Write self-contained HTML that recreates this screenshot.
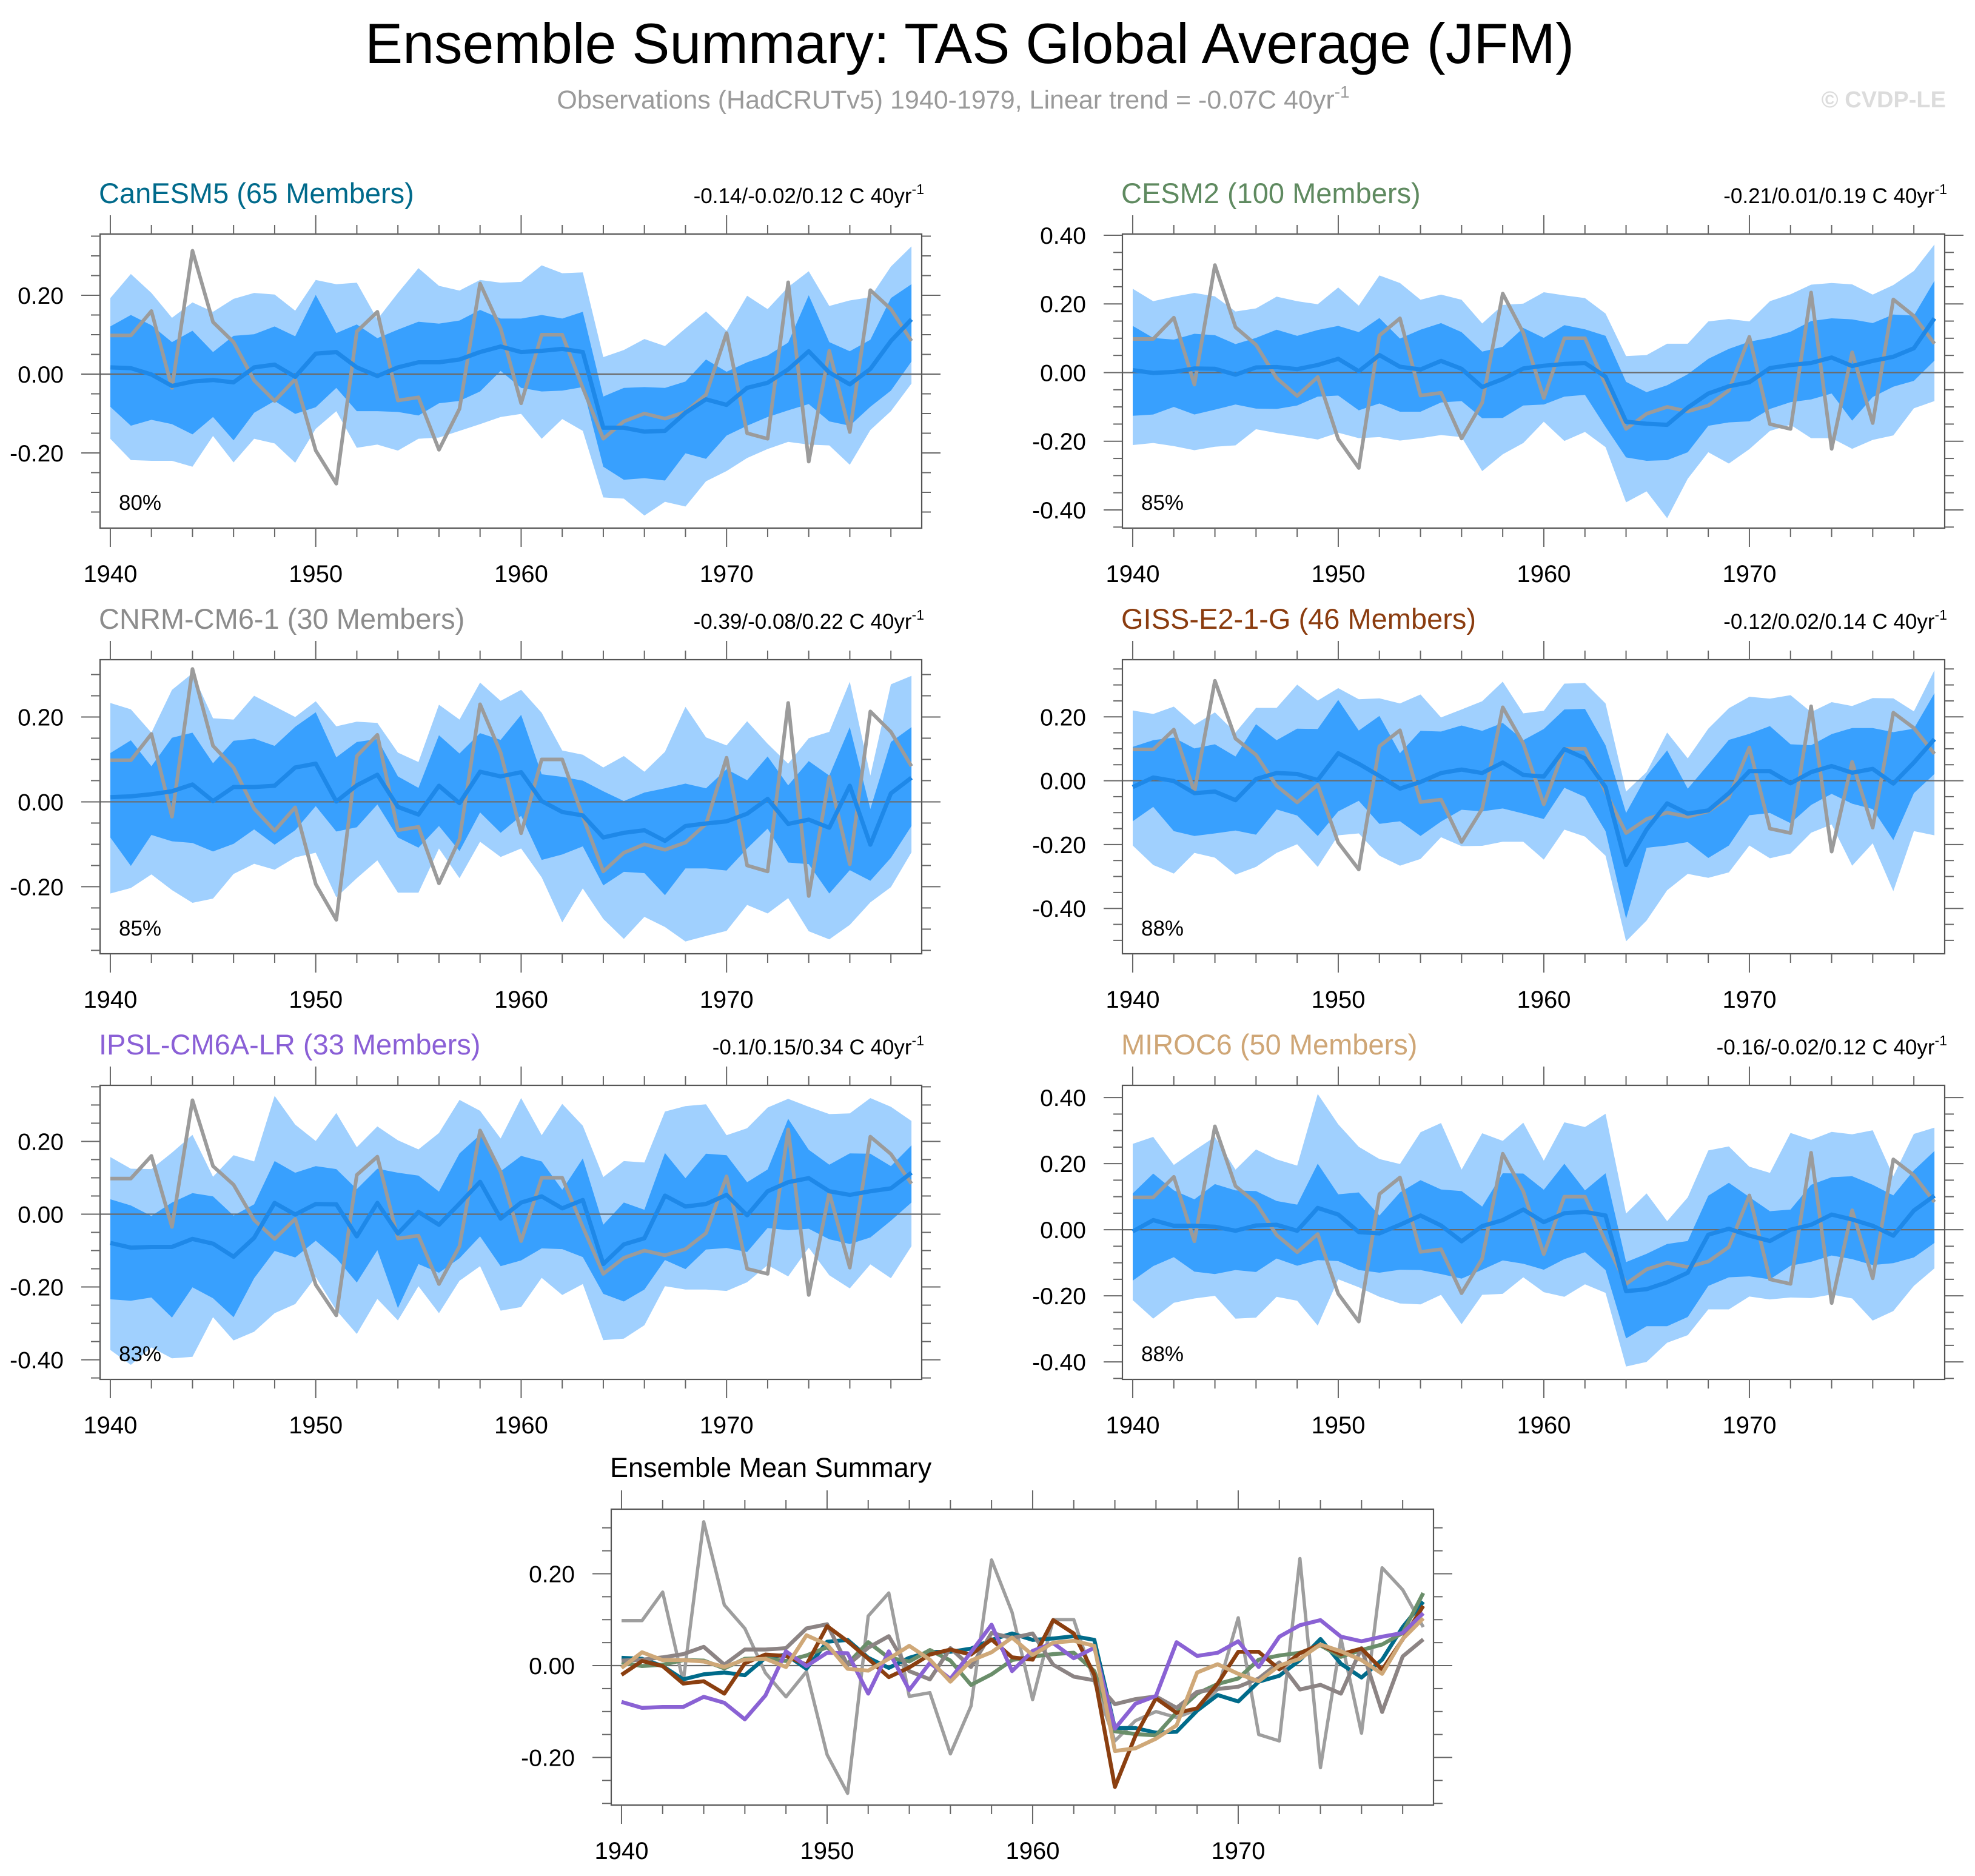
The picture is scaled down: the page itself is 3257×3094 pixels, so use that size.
<!DOCTYPE html>
<html><head><meta charset="utf-8"><title>Ensemble Summary: TAS Global Average (JFM)</title>
<style>
html,body{margin:0;padding:0;background:#fff;}
svg{display:block;font-family:"Liberation Sans",Arial,sans-serif;}
</style></head>
<body>
<svg id="chart" xmlns="http://www.w3.org/2000/svg" width="3257" height="3094" viewBox="0 0 3257 3094">
<rect x="0" y="0" width="3257" height="3094" fill="#fff"/>
<text x="1599" y="104" text-anchor="middle" font-size="94" textLength="1994" lengthAdjust="spacingAndGlyphs" fill="#000">Ensemble Summary: TAS Global Average (JFM)</text>
<text x="1572" y="179" text-anchor="middle" font-size="43" fill="#9a9a9a">Observations (HadCRUTv5) 1940-1979, Linear trend = -0.07C 40yr<tspan font-size="28" dy="-18">-1</tspan></text>
<text x="3209" y="177" text-anchor="end" font-size="38" font-weight="bold" fill="#dcdcdc">© CVDP-LE</text>
<g id="plots"></g>
</svg>
<script>
const years = [1940,1941,1942,1943,1944,1945,1946,1947,1948,1949,1950,1951,1952,1953,1954,1955,1956,1957,1958,1959,1960,1961,1962,1963,1964,1965,1966,1967,1968,1969,1970,1971,1972,1973,1974,1975,1976,1977,1978,1979];
const xTickLabels = [1940,1950,1960,1970];
const obs = [0.098,0.098,0.16,-0.035,0.313,0.132,0.081,-0.016,-0.068,-0.013,-0.194,-0.278,0.108,0.158,-0.067,-0.059,-0.192,-0.088,0.23,0.116,-0.074,0.10,0.10,-0.035,-0.164,-0.12,-0.1,-0.113,-0.096,-0.052,0.104,-0.15,-0.164,0.233,-0.222,0.059,-0.147,0.213,0.165,0.084];

const canMean = [0.017,0.015,-0.001,-0.03,-0.019,-0.015,-0.021,0.017,0.024,-0.007,0.052,0.056,0.017,-0.005,0.017,0.03,0.03,0.037,0.056,0.07,0.056,0.059,0.064,0.056,-0.136,-0.136,-0.146,-0.144,-0.098,-0.064,-0.078,-0.035,-0.022,0.012,0.058,0.004,-0.026,0.013,0.084,0.139];
const canOutHi = [0.193,0.254,0.206,0.143,0.182,0.158,0.191,0.206,0.202,0.161,0.239,0.228,0.232,0.139,0.206,0.269,0.224,0.212,0.239,0.232,0.234,0.276,0.256,0.258,0.043,0.061,0.089,0.071,0.116,0.159,0.11,0.199,0.165,0.221,0.261,0.173,0.187,0.195,0.273,0.324];
const canInHi = [0.121,0.15,0.124,0.081,0.11,0.056,0.097,0.101,0.121,0.096,0.201,0.104,0.126,0.091,0.113,0.133,0.128,0.136,0.163,0.141,0.141,0.15,0.141,0.158,-0.057,-0.035,-0.033,-0.035,-0.019,0.037,0.006,0.03,0.047,0.08,0.2,0.081,0.058,0.087,0.193,0.228];
const canInLo = [-0.083,-0.131,-0.116,-0.127,-0.153,-0.109,-0.168,-0.098,-0.068,-0.101,-0.084,-0.035,-0.094,-0.094,-0.096,-0.105,-0.074,-0.068,-0.044,0.008,-0.035,-0.044,-0.042,-0.033,-0.235,-0.268,-0.264,-0.27,-0.201,-0.215,-0.156,-0.131,-0.109,-0.092,-0.076,-0.12,-0.131,-0.083,-0.042,0.032];
const canOutLo = [-0.164,-0.218,-0.22,-0.22,-0.235,-0.157,-0.224,-0.164,-0.176,-0.225,-0.139,-0.094,-0.187,-0.179,-0.194,-0.164,-0.161,-0.144,-0.127,-0.109,-0.101,-0.164,-0.114,-0.144,-0.313,-0.316,-0.359,-0.324,-0.336,-0.272,-0.246,-0.213,-0.19,-0.172,-0.179,-0.181,-0.23,-0.142,-0.094,-0.024];

const cesmMean = [0.007,-0.001,0.002,0.012,0.011,-0.006,0.015,0.016,0.01,0.022,0.04,0.004,0.051,0.017,0.009,0.034,0.011,-0.042,-0.019,0.012,0.02,0.025,0.028,-0.012,-0.143,-0.149,-0.152,-0.102,-0.061,-0.04,-0.028,0.013,0.022,0.028,0.044,0.019,0.034,0.046,0.071,0.158];
const cesmOutHi = [0.244,0.208,0.221,0.232,0.222,0.178,0.187,0.221,0.208,0.199,0.248,0.195,0.283,0.261,0.212,0.227,0.212,0.143,0.197,0.201,0.234,0.225,0.217,0.172,0.048,0.051,0.084,0.084,0.149,0.156,0.149,0.208,0.228,0.256,0.261,0.257,0.227,0.255,0.296,0.373];
const cesmInHi = [0.136,0.101,0.096,0.113,0.109,0.083,0.101,0.125,0.107,0.124,0.136,0.118,0.159,0.099,0.125,0.144,0.118,0.061,0.075,0.13,0.101,0.138,0.126,0.107,-0.027,-0.057,-0.037,-0.005,0.04,0.069,0.09,0.101,0.119,0.15,0.158,0.155,0.144,0.169,0.166,0.267];
const cesmInLo = [-0.126,-0.122,-0.1,-0.122,-0.108,-0.093,-0.105,-0.106,-0.096,-0.07,-0.067,-0.11,-0.09,-0.114,-0.114,-0.087,-0.083,-0.133,-0.132,-0.096,-0.093,-0.07,-0.065,-0.158,-0.247,-0.257,-0.255,-0.232,-0.155,-0.145,-0.142,-0.106,-0.086,-0.078,-0.061,-0.14,-0.071,-0.041,-0.024,0.035];
const cesmOutLo = [-0.211,-0.205,-0.214,-0.226,-0.216,-0.212,-0.165,-0.176,-0.185,-0.195,-0.175,-0.191,-0.188,-0.198,-0.191,-0.182,-0.188,-0.287,-0.238,-0.205,-0.143,-0.199,-0.173,-0.217,-0.378,-0.346,-0.424,-0.309,-0.232,-0.265,-0.223,-0.17,-0.152,-0.191,-0.191,-0.222,-0.196,-0.183,-0.104,-0.083];

const cnrmMean = [0.011,0.013,0.018,0.025,0.041,0.002,0.035,0.035,0.038,0.081,0.09,0.001,0.039,0.064,-0.012,-0.03,0.038,-0.003,0.071,0.06,0.07,0.002,-0.024,-0.032,-0.084,-0.073,-0.067,-0.092,-0.057,-0.051,-0.046,-0.028,0.007,-0.052,-0.042,-0.061,0.038,-0.101,0.02,0.057];
const cnrmOutHi = [0.233,0.218,0.163,0.264,0.303,0.197,0.194,0.25,0.225,0.2,0.237,0.178,0.189,0.186,0.116,0.094,0.229,0.194,0.281,0.238,0.264,0.21,0.121,0.111,0.081,0.108,0.071,0.118,0.224,0.152,0.133,0.19,0.137,0.09,0.15,0.165,0.283,0.062,0.277,0.297];
const cnrmInHi = [0.115,0.145,0.084,0.151,0.163,0.091,0.144,0.149,0.132,0.177,0.211,0.105,0.141,0.148,0.06,0.033,0.157,0.114,0.162,0.146,0.205,0.065,0.059,0.05,0.025,0.002,0.022,0.032,0.043,0.032,0.077,0.051,0.107,0.039,0.096,0.062,0.176,-0.017,0.141,0.176];
const cnrmInLo = [-0.084,-0.151,-0.078,-0.093,-0.097,-0.117,-0.099,-0.065,-0.101,-0.067,-0.01,-0.07,-0.06,-0.006,-0.084,-0.108,-0.057,-0.116,-0.025,-0.073,-0.033,-0.137,-0.124,-0.105,-0.197,-0.165,-0.168,-0.22,-0.157,-0.157,-0.162,-0.11,-0.063,-0.143,-0.147,-0.216,-0.161,-0.186,-0.132,-0.057];
const cnrmOutLo = [-0.216,-0.203,-0.171,-0.208,-0.238,-0.228,-0.17,-0.146,-0.16,-0.131,-0.12,-0.225,-0.18,-0.138,-0.214,-0.214,-0.11,-0.18,-0.094,-0.13,-0.11,-0.178,-0.284,-0.204,-0.276,-0.323,-0.271,-0.295,-0.329,-0.316,-0.304,-0.243,-0.263,-0.227,-0.305,-0.324,-0.29,-0.237,-0.201,-0.119];

const gissMean = [-0.02,0.01,-0.001,-0.039,-0.034,-0.061,0.005,0.024,0.021,0.002,0.086,0.053,0.015,-0.025,-0.004,0.024,0.035,0.024,0.057,0.018,0.013,0.099,0.07,-0.02,-0.264,-0.153,-0.071,-0.103,-0.093,-0.039,0.03,0.03,-0.008,0.027,0.046,0.025,0.037,-0.009,0.057,0.13];
const gissOutHi = [0.22,0.209,0.232,0.175,0.214,0.151,0.228,0.228,0.301,0.251,0.29,0.255,0.258,0.242,0.27,0.198,0.223,0.249,0.31,0.211,0.219,0.304,0.306,0.242,-0.034,0.027,0.151,0.07,0.163,0.227,0.263,0.257,0.268,0.215,0.246,0.234,0.259,0.258,0.217,0.346];
const gissInHi = [0.106,0.127,0.135,0.101,0.114,0.076,0.177,0.127,0.163,0.162,0.253,0.157,0.203,0.086,0.156,0.154,0.173,0.156,0.181,0.127,0.162,0.223,0.225,0.111,-0.101,0.015,0.095,-0.025,0.051,0.128,0.147,0.171,0.114,0.111,0.146,0.165,0.165,0.152,0.163,0.274];
const gissInLo = [-0.127,-0.082,-0.158,-0.173,-0.165,-0.156,-0.169,-0.09,-0.109,-0.173,-0.096,-0.063,-0.135,-0.127,-0.173,-0.128,-0.091,-0.096,-0.087,-0.103,-0.12,-0.022,-0.051,-0.158,-0.432,-0.21,-0.203,-0.192,-0.242,-0.203,-0.108,-0.101,-0.133,-0.076,-0.041,-0.072,-0.089,-0.186,-0.039,0.021];
const gissOutLo = [-0.203,-0.264,-0.291,-0.226,-0.241,-0.294,-0.27,-0.226,-0.199,-0.27,-0.171,-0.165,-0.235,-0.266,-0.245,-0.177,-0.205,-0.204,-0.191,-0.191,-0.247,-0.153,-0.175,-0.235,-0.503,-0.438,-0.343,-0.292,-0.304,-0.287,-0.203,-0.243,-0.228,-0.163,-0.137,-0.266,-0.196,-0.346,-0.158,-0.171];

const ipslMean = [-0.079,-0.092,-0.09,-0.09,-0.068,-0.081,-0.117,-0.065,0.031,-0.001,0.028,0.027,-0.061,0.031,-0.053,0.006,-0.029,0.029,0.089,-0.012,0.032,0.049,0.016,0.039,-0.137,-0.083,-0.066,0.051,0.021,0.028,0.053,-0.003,0.063,0.088,0.099,0.063,0.053,0.063,0.071,0.114];
const ipslOutHi = [0.157,0.125,0.124,0.169,0.218,0.103,0.162,0.145,0.325,0.246,0.201,0.278,0.184,0.241,0.203,0.178,0.223,0.314,0.284,0.208,0.319,0.217,0.303,0.243,0.102,0.146,0.142,0.282,0.297,0.302,0.217,0.236,0.293,0.317,0.295,0.275,0.277,0.319,0.295,0.256];
const ipslInHi = [0.041,0.024,-0.005,0.032,0.058,0.049,-0.004,0.027,0.146,0.114,0.132,0.124,0.069,0.125,0.114,0.106,0.062,0.167,0.218,0.118,0.16,0.145,0.067,0.153,-0.029,0.032,0.012,0.168,0.099,0.166,0.162,0.088,0.123,0.262,0.177,0.136,0.167,0.166,0.132,0.189];
const ipslInLo = [-0.234,-0.238,-0.229,-0.284,-0.201,-0.231,-0.283,-0.176,-0.101,-0.119,-0.073,-0.121,-0.188,-0.099,-0.258,-0.137,-0.161,-0.121,-0.061,-0.143,-0.127,-0.094,-0.096,-0.118,-0.219,-0.24,-0.207,-0.126,-0.151,-0.097,-0.093,-0.104,-0.038,-0.044,-0.04,-0.069,-0.082,-0.064,-0.018,0.032];
const ipslOutLo = [-0.373,-0.414,-0.366,-0.396,-0.392,-0.283,-0.347,-0.323,-0.272,-0.247,-0.173,-0.264,-0.329,-0.233,-0.292,-0.198,-0.272,-0.183,-0.143,-0.265,-0.255,-0.175,-0.222,-0.192,-0.346,-0.342,-0.305,-0.198,-0.207,-0.207,-0.211,-0.187,-0.14,-0.171,-0.092,-0.168,-0.204,-0.138,-0.176,-0.088];

const mirocMean = [-0.005,0.029,0.012,0.012,0.009,-0.003,0.013,0.015,-0.003,0.066,0.046,-0.007,-0.011,0.015,0.043,0.013,-0.035,0.011,0.029,0.061,0.023,0.05,0.054,0.043,-0.186,-0.18,-0.159,-0.13,-0.015,0.003,-0.018,-0.034,0,0.015,0.046,0.031,0.012,-0.018,0.058,0.103];
const mirocOutHi = [0.26,0.281,0.196,0.24,0.281,0.182,0.243,0.213,0.194,0.411,0.319,0.251,0.214,0.199,0.295,0.323,0.182,0.292,0.269,0.324,0.209,0.325,0.311,0.351,0.049,0.11,0.026,0.098,0.24,0.252,0.191,0.172,0.293,0.272,0.296,0.289,0.301,0.162,0.29,0.309];
const mirocInHi = [0.11,0.17,0.119,0.092,0.138,0.119,0.117,0.087,0.076,0.2,0.107,0.113,0.043,0.113,0.15,0.122,0.117,0.07,0.171,0.17,0.121,0.2,0.119,0.171,-0.098,-0.073,-0.043,-0.034,0.103,0.142,0.099,0.056,0.061,0.136,0.159,0.162,0.136,0.104,0.18,0.238];
const mirocInLo = [-0.154,-0.11,-0.083,-0.127,-0.134,-0.122,-0.128,-0.087,-0.109,-0.092,-0.095,-0.122,-0.13,-0.121,-0.122,-0.134,-0.148,-0.121,-0.093,-0.103,-0.121,-0.089,-0.068,-0.122,-0.329,-0.292,-0.292,-0.264,-0.17,-0.144,-0.141,-0.15,-0.109,-0.097,-0.078,-0.089,-0.107,-0.101,-0.084,-0.04];
const mirocOutLo = [-0.213,-0.269,-0.221,-0.208,-0.2,-0.269,-0.266,-0.203,-0.215,-0.29,-0.15,-0.174,-0.203,-0.223,-0.226,-0.197,-0.286,-0.197,-0.194,-0.144,-0.189,-0.203,-0.165,-0.191,-0.414,-0.4,-0.342,-0.319,-0.241,-0.241,-0.202,-0.211,-0.205,-0.207,-0.196,-0.208,-0.275,-0.246,-0.17,-0.117];

const NS = 'http://www.w3.org/2000/svg';
const root = document.getElementById('plots');
function mk(tag, attrs, parent) {
  const e = document.createElementNS(NS, tag);
  for (const k in attrs) e.setAttribute(k, attrs[k]);
  (parent || root).appendChild(e);
  return e;
}
function fmt(v) { const s = Math.abs(v).toFixed(2); return (v < -1e-9 ? '-' : '') + s; }

const panels = [
  {key:'canesm5', title:'CanESM5 (65 Members)', color:'#006a8b', trend:'-0.14/-0.02/0.12', pct:'80%', x0:165, x1:1520, y0:386, y1:871, ymin:-0.3908, ymax:0.3554, mean:canMean, oh:canOutHi, ih:canInHi, il:canInLo, ol:canOutLo},
  {key:'cesm2', title:'CESM2 (100 Members)', color:'#5f8a60', trend:'-0.21/0.01/0.19', pct:'85%', x0:1851, x1:3207, y0:386, y1:871, ymin:-0.453, ymax:0.4035, mean:cesmMean, oh:cesmOutHi, ih:cesmInHi, il:cesmInLo, ol:cesmOutLo},
  {key:'cnrm-cm6-1', title:'CNRM-CM6-1 (30 Members)', color:'#8c8c8c', trend:'-0.39/-0.08/0.22', pct:'85%', x0:165, x1:1520, y0:1088, y1:1573, ymin:-0.358, ymax:0.335, mean:cnrmMean, oh:cnrmOutHi, ih:cnrmInHi, il:cnrmInLo, ol:cnrmOutLo},
  {key:'giss-e2-1-g', title:'GISS-E2-1-G (46 Members)', color:'#8b3c0f', trend:'-0.12/0.02/0.14', pct:'88%', x0:1851, x1:3207, y0:1088, y1:1573, ymin:-0.542, ymax:0.379, mean:gissMean, oh:gissOutHi, ih:gissInHi, il:gissInLo, ol:gissOutLo},
  {key:'ipsl-cm6a-lr', title:'IPSL-CM6A-LR (33 Members)', color:'#8a5fd6', trend:'-0.1/0.15/0.34', pct:'83%', x0:165, x1:1520, y0:1790, y1:2275, ymin:-0.454, ymax:0.354, mean:ipslMean, oh:ipslOutHi, ih:ipslInHi, il:ipslInLo, ol:ipslOutLo},
  {key:'miroc6', title:'MIROC6 (50 Members)', color:'#cfa676', trend:'-0.16/-0.02/0.12', pct:'88%', x0:1851, x1:3207, y0:1790, y1:2275, ymin:-0.453, ymax:0.437, mean:mirocMean, oh:mirocOutHi, ih:mirocInHi, il:mirocInLo, ol:mirocOutLo}
];

function axes(g, p, key) {
  const xs = yr => p.x0 + (yr - 1939.5) / 40 * (p.x1 - p.x0);
  const ys = v => p.y1 - (v - p.ymin) / (p.ymax - p.ymin) * (p.y1 - p.y0);
  return {xs, ys};
}

function drawFrameAndTicks(g, p, xs, ys, key) {
  const frame = mk('rect', {x:p.x0, y:p.y0, width:p.x1-p.x0, height:p.y1-p.y0, fill:'none', stroke:'#555', 'stroke-width':2.2}, g);
  
  
  const tg = mk('g', {stroke:'#666', 'stroke-width':2}, g);
  
  
  for (let yr = 1940; yr <= 1979; yr += 2) {
    const major = yr % 10 === 0;
    const L = major ? 31 : 15;
    const x = xs(yr);
    mk('line', {x1:x, y1:p.y1, x2:x, y2:p.y1 + L}, tg);
    mk('line', {x1:x, y1:p.y0, x2:x, y2:p.y0 - L}, tg);
  }
  const kmin = Math.ceil(p.ymin / 0.05 - 1e-6), kmax = Math.floor(p.ymax / 0.05 + 1e-6);
  for (let k = kmin; k <= kmax; k++) {
    const major = k % 4 === 0;
    const L = major ? 31 : 15;
    const y = ys(k * 0.05);
    mk('line', {x1:p.x0, y1:y, x2:p.x0 - L, y2:y}, tg);
    mk('line', {x1:p.x1, y1:y, x2:p.x1 + L, y2:y}, tg);
    if (major) {
      const t = mk('text', {x:p.x0 - 60, y:y + 14, 'text-anchor':'end', 'font-size':39, fill:'#000', stroke:'none'}, g);
      t.textContent = fmt(k * 0.05);
      
      
    }
  }
  xTickLabels.forEach(yr => {
    const t = mk('text', {x:xs(yr), y:p.y1 + 89, 'text-anchor':'middle', 'font-size':40, fill:'#000'}, g);
    t.textContent = yr;
    
    
  });
}

function linePath(arr, xs, ys) {
  return arr.map((v, i) => (i ? 'L' : 'M') + xs(years[i]).toFixed(1) + ' ' + ys(v).toFixed(1)).join(' ');
}
function bandPath(hi, lo, xs, ys) {
  let d = hi.map((v, i) => (i ? 'L' : 'M') + xs(years[i]).toFixed(1) + ' ' + ys(v).toFixed(1)).join(' ');
  for (let i = lo.length - 1; i >= 0; i--) d += ' L' + xs(years[i]).toFixed(1) + ' ' + ys(lo[i]).toFixed(1);
  return d + ' Z';
}

panels.forEach(p => {
  const g = mk('g', {});
  
  
  const {xs, ys} = axes(g, p);
  const outer = mk('path', {d:bandPath(p.oh, p.ol, xs, ys), fill:'#a0d0fe', stroke:'none'}, g);
  
  
  const inner = mk('path', {d:bandPath(p.ih, p.il, xs, ys), fill:'#38a0fe', stroke:'none'}, g);
  
  
  const zero = mk('line', {x1:p.x0, y1:ys(0), x2:p.x1, y2:ys(0), stroke:'#6b6b6b', 'stroke-width':2.2}, g);
  
  
  const ob = mk('path', {d:linePath(obs, xs, ys), fill:'none', stroke:'#9b9b9b', 'stroke-width':6, 'stroke-linejoin':'round'}, g);
  
  
  const mn = mk('path', {d:linePath(p.mean, xs, ys), fill:'none', stroke:'#1e88e8', 'stroke-width':7, 'stroke-linejoin':'round'}, g);
  
  
  drawFrameAndTicks(g, p, xs, ys, p.key);
  const title = mk('text', {x:p.x0 - 2, y:p.y0 - 51, 'font-size':47, fill:p.color}, g);
  title.textContent = p.title;
  
  
  const tr = mk('text', {x:p.x1 + 4, y:p.y0 - 51, 'text-anchor':'end', 'font-size':35, fill:'#000'}, g);
  tr.textContent = p.trend + ' C 40yr';
  const sup = mk('tspan', {'font-size':23, dy:-15}, tr);
  sup.textContent = '-1';
  
  
  const pc = mk('text', {x:p.x0 + 31, y:p.y1 - 30, 'font-size':35, fill:'#000'}, g);
  pc.textContent = p.pct;
  
  
});

// Ensemble mean summary
const summary = {key:'summary', x0:1008, x1:2364, y0:2489, y1:2977, ymin:-0.3036, ymax:0.3406};
const summarySeries = [
  {key:'observations', data:obs, color:'#9e9e9e', w:5.5},
  {key:'canesm5', data:canMean, color:'#006b8a', w:6.5},
  {key:'cesm2', data:cesmMean, color:'#6a8e6a', w:6.5},
  {key:'cnrm-cm6-1', data:cnrmMean, color:'#8c8484', w:6.5},
  {key:'giss-e2-1-g', data:gissMean, color:'#8b3f10', w:6.5},
  {key:'ipsl-cm6a-lr', data:ipslMean, color:'#8a62d4', w:6.5},
  {key:'miroc6', data:mirocMean, color:'#cfa878', w:6.5}
];
(function() {
  const p = summary;
  const g = mk('g', {});
  
  
  const {xs, ys} = axes(g, p);
  const zero = mk('line', {x1:p.x0, y1:ys(0), x2:p.x1, y2:ys(0), stroke:'#6b6b6b', 'stroke-width':2.2}, g);
  
  
  summarySeries.forEach(s => {
    const l = mk('path', {d:linePath(s.data, xs, ys), fill:'none', stroke:s.color, 'stroke-width':s.w, 'stroke-linejoin':'round'}, g);
    
    
  });
  drawFrameAndTicks(g, p, xs, ys, 'summary');
  const t = mk('text', {x:1006, y:2436, 'font-size':45, fill:'#000'}, g);
  t.textContent = 'Ensemble Mean Summary';
  
  
})();
</script>
</body></html>
